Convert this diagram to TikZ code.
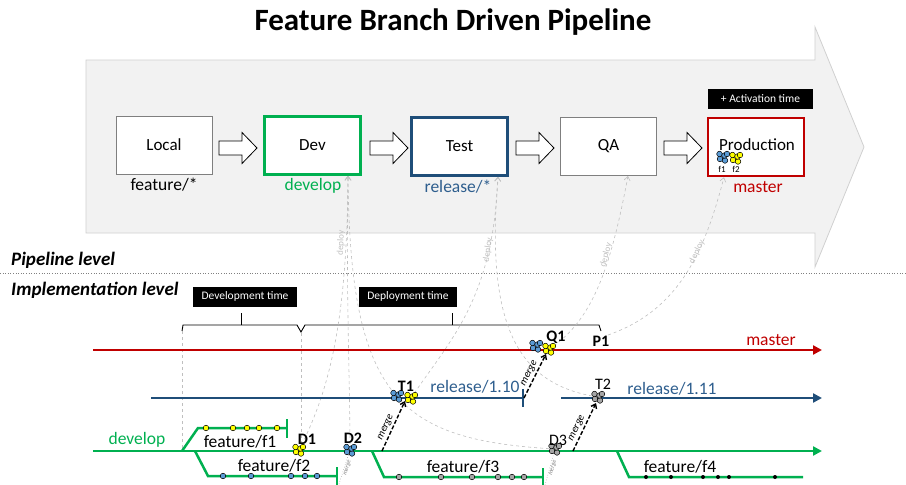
\documentclass[tikz,border=0pt]{standalone}
\usepackage{fontspec}
\setmainfont{Carlito}
\usetikzlibrary{arrows.meta}
\definecolor{bggray}{HTML}{F2F2F2}
\definecolor{bgedge}{HTML}{D0D0D0}
\definecolor{gitgreen}{HTML}{00B050}
\definecolor{relblue}{HTML}{1F4E79}
\definecolor{reltext}{HTML}{2E5E8E}
\definecolor{mred}{HTML}{C00000}
\definecolor{dotblue}{HTML}{5B9BD5}
\definecolor{dotyel}{HTML}{FFFF00}
\definecolor{dotgray}{HTML}{A6A6A6}
\definecolor{deplgray}{HTML}{BFBFBF}
\definecolor{boxgray}{HTML}{7F7F7F}
\begin{document}
\begin{tikzpicture}[x=1pt,y=-1pt,
  stagebox/.style={draw=boxgray, line width=1pt, fill=white, minimum width=96pt, minimum height=58pt, font=\fontsize{17}{20}\selectfont, inner sep=0pt},
  blacktag/.style={fill=black, text=white, font=\fontsize{11.5}{13}\selectfont, minimum height=20pt, inner sep=1pt},
  branchlbl/.style={font=\fontsize{17.5}{20}\selectfont, inner sep=0pt},
  ptlbl/.style={font=\bfseries\fontsize{16}{18}\selectfont, inner sep=0pt},
  ptlblr/.style={font=\fontsize{16}{18}\selectfont, inner sep=0pt},
  mainline/.style={line width=2.5pt, -{Triangle[length=9pt,width=9pt]}},
  featline/.style={line width=2.5pt, gitgreen},
  deployline/.style={draw=deplgray, dashed, line width=0.6pt, -{Straight Barb[length=4pt,width=6pt]}},
  deploylbl/.style={text=deplgray, font=\fontsize{9}{10}\selectfont, inner sep=1pt},
  mergeline/.style={draw=black, dash pattern=on 4pt off 2pt, line width=1.4pt, -{Straight Barb[length=4pt,width=6pt]}},
  mergelbl/.style={font=\itshape\fontsize{10.5}{11}\selectfont, inner sep=2pt},
  minimerge/.style={draw=gray, dotted, line width=0.5pt},
  minimergelbl/.style={font=\itshape\fontsize{6}{7}\selectfont, inner sep=1pt, text=gray},
  commit/.style={draw=black, line width=0.5pt, fill=#1},
  pics/cl/.style={code={
     \foreach \a/\b in {-3/-2, 2/-3.5, -3.5/3, 1.5/1.5, 4/3}{\draw[line width=0.5pt, fill=#1] (\a pt,\b pt) circle[radius=2.8pt];}}},
  pics/blockarr/.style={code={
     \draw[fill=white, line width=0.8pt] (0,-7) -- (23,-7) -- (23,-15.5) -- (38,0) -- (23,15.5) -- (23,7) -- (0,7) -- cycle;}}
]
\useasboundingbox (0,0) rectangle (906,485);

% title
\node[font=\bfseries\fontsize{31}{36}\selectfont] (title) at (453,22) {Feature Branch Driven Pipeline};

% big pipeline arrow
\draw[fill=bggray, draw=bgedge, line width=0.8pt] (86,60) -- (815,60) -- (815,27) -- (864,147) -- (815,267) -- (815,233) -- (86,233) -- cycle;

% stages
\node[stagebox] (local) at (164,145) {Local};
\node[stagebox, draw=gitgreen, line width=2.5pt] (dev) at (312.5,145.5) {Dev};
\node[stagebox, draw=relblue, line width=2.5pt] (test) at (459.5,146.5) {Test};
\node[stagebox] (qa) at (608.5,146.5) {QA};
\node[stagebox, draw=mred, line width=2.5pt] (prod) at (756,147) {};
\node[font=\fontsize{17}{20}\selectfont, inner sep=0pt] (prodtxt) at (757,145) {Production};

\pic at (219,148) {blockarr};
\pic at (370,148) {blockarr};
\pic at (516,148) {blockarr};
\pic at (664,148) {blockarr};

\node[branchlbl] (lfeat) at (164,185) {feature/*};
\node[branchlbl, text=gitgreen] (ldev) at (313,186) {develop};
\node[branchlbl, text=reltext] (lrel) at (458,187) {release/*};
\node[branchlbl, text=mred] (lmaster) at (758,187) {master};

\node[blacktag, minimum width=105pt] (activ) at (760.5,99) {+ Activation time};
\coordinate (pf1) at (723,157);
\coordinate (pf2) at (736,158);
\pic at (pf1) {cl=dotblue};
\pic at (pf2) {cl=dotyel};
\node[font=\fontsize{9}{10}\selectfont, inner sep=0pt] at (722,169.5) {f1};
\node[font=\fontsize{9}{10}\selectfont, inner sep=0pt] at (736,169.5) {f2};

% levels
\node[anchor=west, font=\bfseries\itshape\fontsize{19}{22}\selectfont, inner sep=0pt] (pl) at (11,260) {Pipeline level};
\draw[gray, dotted, line width=0.6pt] (0,273) -- (906,273);
\node[anchor=west, font=\bfseries\itshape\fontsize{19}{22}\selectfont, inner sep=0pt] (il) at (11,290) {Implementation level};

% time tags and braces
\node[blacktag, minimum width=104pt] (devtime) at (245,296.5) {Development time};
\node[blacktag, minimum width=98pt] (deptime) at (408,296.5) {Deployment time};
\draw[line width=0.9pt] (182,331) -- (183,325) -- (297,325) -- (301,332) -- (305,325) -- (599,325) -- (601,331);
\draw[line width=0.9pt] (241,325) -- (241,313);
\draw[line width=0.9pt] (452,325) -- (452,313);
\draw[deplgray, dashed, line width=0.6pt] (182,331) -- (182,451);
\draw[deplgray, dashed, line width=0.6pt] (301,333) -- (301,446);

% named points
\coordinate (m0) at (93,350);   \coordinate (m1) at (822,350);
\coordinate (r0) at (151,398);  \coordinate (r1) at (523,398);
\coordinate (s0) at (561,398);  \coordinate (s1) at (822,398);
\coordinate (d0) at (93,451);   \coordinate (d1) at (822,451);
\coordinate (D1) at (299,450);
\coordinate (D2) at (350,450);
\coordinate (D3) at (555,449);
\coordinate (T1) at (397,396);
\coordinate (T1b) at (411,398);
\coordinate (T2) at (598,397);
\coordinate (Q1) at (536,346);
\coordinate (Q1b) at (549,349);
\coordinate (P1) at (608,335);

% deploy curves
\draw[deployline] (D1) .. controls (330,390) and (347,320) .. (dev.south -| 348,0);
\draw[deployline] (D2) .. controls (350,380) and (346,300) .. (dev.south -| 348,0);
\draw[deployline] (D3) .. controls (400,440) and (350,400) .. (dev.south -| 348,0);
\draw[deployline] (T1b) .. controls (450,340) and (493,300) .. (test.south -| 498,0);
\draw[deployline] (T2) .. controls (520,385) and (485,330) .. (test.south -| 498,0);
\draw[deployline] (Q1b) .. controls (595,320) and (612,260) .. (qa.south -| 628,0);
\draw[deployline] (P1) .. controls (680,310) and (705,250) .. (prod.south -| 724,0);
\node[deploylbl, rotate=88] at (341,243) {deploy};
\node[deploylbl, rotate=82] at (488,250) {deploy};
\node[deploylbl, rotate=75] at (606,255) {deploy};
\node[deploylbl, rotate=64] at (697,252) {deploy};

% main branches
\draw[mainline, mred] (m0) -- (m1);
\draw[line width=2.5pt, relblue] (r0) -- (r1);
\draw[line width=2.5pt, relblue] (523,389) -- (523,407);
\draw[mainline, relblue] (s0) -- (s1);
\draw[mainline, gitgreen] (d0) -- (d1);

% feature branches
\draw[featline] (182,451) -- (198,428) -- (287,428);
\draw[featline] (287,419) -- (287,438);
\draw[featline] (195,451) -- (208,476) -- (337,476);
\draw[featline] (337,467) -- (337,485);
\draw[featline] (372,451) -- (384,477) -- (543,477);
\draw[featline] (543,468) -- (543,486);
\draw[featline] (617,451) -- (629,477) -- (803,477);

\foreach \x in {206,233,247,259,277} \draw[commit=dotyel] (\x,428) circle[radius=2.8pt];
\foreach \x in {223,251,291,305,317} \draw[commit=dotblue] (\x,476) circle[radius=2.8pt];
\foreach \x in {399,441,472,498,512,524} \draw[commit=dotgray] (\x,477) circle[radius=2.8pt];
\foreach \x in {646,671,703,718,729,775} \fill (\x,477) circle[radius=2pt];

% branch labels
\node[branchlbl, text=mred] at (771,340) {master};
\node[branchlbl, text=reltext] at (475,387) {release/1.10};
\node[branchlbl, text=reltext] at (672,389) {release/1.11};
\node[branchlbl, text=gitgreen] at (137,440) {develop};
\node[branchlbl] at (240,442) {feature/f1};
\node[branchlbl] at (274,466) {feature/f2};
\node[branchlbl] at (463,467) {feature/f3};
\node[branchlbl] at (680,467) {feature/f4};

% merges
\coordinate (mA0) at (382,451); \coordinate (mA1) at (405,401);
\coordinate (mB0) at (524,398); \coordinate (mB1) at (546,354);
\coordinate (mC0) at (573,451); \coordinate (mC1) at (596,403);
\draw[mergeline] (mA0) -- node[mergelbl, sloped, above, pos=0.42] {merge} (mA1);
\draw[mergeline] (mB0) -- node[mergelbl, sloped, above, pos=0.5] {merge} (mB1);
\draw[mergeline] (mC0) -- node[mergelbl, sloped, above, pos=0.42] {merge} (mC1);
\draw[minimerge] (339,484) -- node[minimergelbl, sloped, below] {merge} (D2);
\draw[minimerge] (545,485) -- node[minimergelbl, sloped, below] {merge} (D3);

% commit clusters
\pic at (D1) {cl=dotyel};
\pic at (D2) {cl=dotblue};
\pic at (D3) {cl=dotgray};
\pic at (T1) {cl=dotblue};
\pic at (T1b) {cl=dotyel};
\pic at (T2) {cl=dotgray};
\pic at (Q1) {cl=dotblue};
\pic at (Q1b) {cl=dotyel};

% point labels
\node[ptlbl] at (307,439) {D1};
\node[ptlbl] at (353,438) {D2};
\node[ptlbl] at (406,386) {T1};
\node[ptlbl] at (556,337) {Q1};
\node[ptlbl] at (601,341) {P1};
\node[ptlblr] at (558,440) {D3};
\node[ptlblr] at (603,384) {T2};
\end{tikzpicture}
\end{document}
